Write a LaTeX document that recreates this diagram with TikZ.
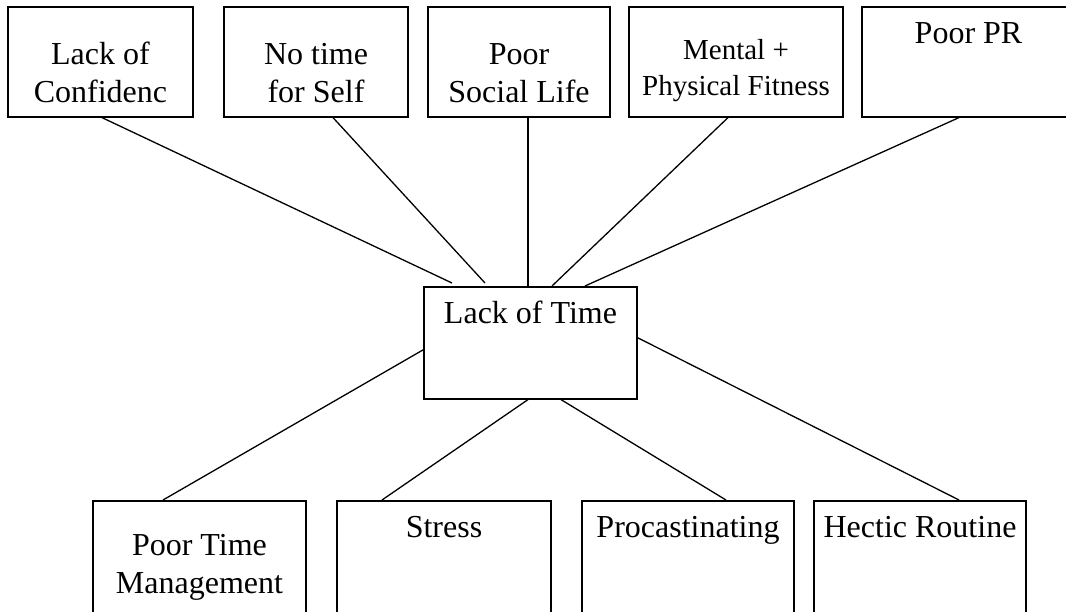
\documentclass[tikz,border=0pt]{standalone}
\usepackage{fontspec}
\setmainfont{Liberation Serif}
% two centred lines whose baseline is that of the first line
\newcommand\twolines[2]{\begin{tabular}[t]{@{}c@{}}#1\\#2\end{tabular}}
\begin{document}
\begin{tikzpicture}[x=1pt,y=-1pt,
  box/.style={draw, line width=1.6pt, rectangle, inner sep=0pt, anchor=north,
              font=\fontsize{32}{38}\selectfont},
  smalltext/.style={font=\fontsize{29}{36}\selectfont},
  link/.style={line width=1.3pt}]
\useasboundingbox (0,0) rectangle (1066,611);
\clip (0,0) rectangle (1066,611);
\fill[white] (0,0) rectangle (1066,611);

% effects along the top
\node[box, minimum width=185pt, text height=58pt, text depth=52pt] (t1) at (100.5,6) {\twolines{Lack of}{Confidenc}};
\node[box, minimum width=184pt, text height=58pt, text depth=52pt] (t2) at (316,6) {\twolines{No time}{for Self}};
\node[box, minimum width=182pt, text height=58pt, text depth=52pt] (t3) at (519,6) {\twolines{Poor}{Social Life}};
\node[box, smalltext, minimum width=214pt, text height=53pt, text depth=57pt] (t4) at (736,6) {\twolines{Mental +}{Physical Fitness}};
\node[box, minimum width=213pt, text height=37pt, text depth=73pt] (t5) at (968.5,6) {Poor PR};

% central problem
\node[box, minimum width=213pt, text height=37pt, text depth=75pt] (c) at (530.5,286) {Lack of Time};

% causes along the bottom
\node[box, minimum width=213pt, text height=55pt, text depth=75pt] (b1) at (199.5,500) {\twolines{Poor Time}{Management}};
\node[box, minimum width=214pt, text height=37pt, text depth=93pt] (b2) at (444,500) {Stress};
\node[box, minimum width=212pt, text height=37pt, text depth=93pt] (b3) at (688,500) {Procastinating};
\node[box, minimum width=212pt, text height=37pt, text depth=93pt] (b4) at (920,500) {Hectic Routine};

% connectors to the effects
\draw[link] ([xshift=1.5pt]t1.south) -- ([xshift=-78.5pt,yshift=3pt]c.north);
\draw[link] ([xshift=17pt]t2.south) -- ([xshift=-45.5pt,yshift=3pt]c.north);
\draw[link] ([xshift=9pt]t3.south) -- ([xshift=-2.5pt]c.north);
\draw[link] ([xshift=-8pt]t4.south) -- ([xshift=21.5pt]c.north);
\draw[link] ([xshift=-9.5pt]t5.south) -- ([xshift=54.5pt]c.north);

% connectors to the causes
\draw[link] ([yshift=-7pt]c.west) -- ([xshift=-36.5pt]b1.north);
\draw[link] ([xshift=-2.5pt]c.south) -- ([xshift=-62pt]b2.north);
\draw[link] ([xshift=30.5pt]c.south) -- ([xshift=38pt]b3.north);
\draw[link] ([yshift=5pt]c.east) -- ([xshift=39pt]b4.north);
\end{tikzpicture}
\end{document}
